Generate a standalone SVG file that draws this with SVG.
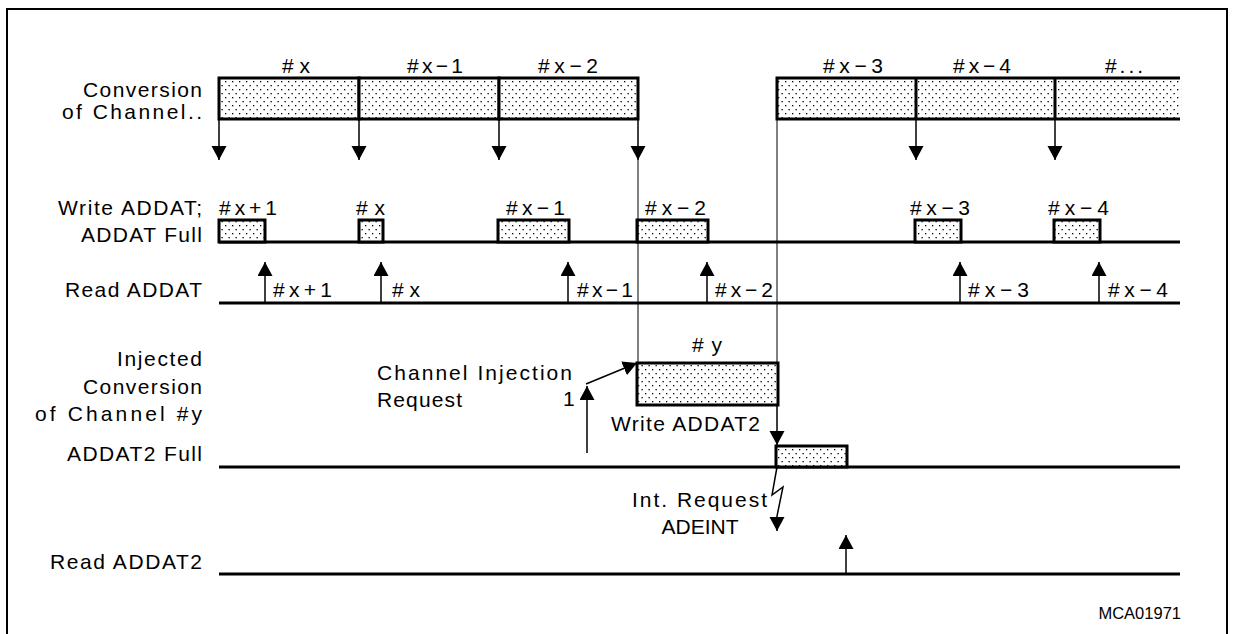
<svg xmlns="http://www.w3.org/2000/svg" width="1233" height="634" viewBox="0 0 1233 634">
<defs>
<pattern id="dots" width="7" height="8" patternUnits="userSpaceOnUse">
<rect width="7" height="8" fill="#fff"/>
<rect x="1" y="1" width="1.3" height="1.3" fill="#000"/>
<rect x="4.5" y="5" width="1.3" height="1.3" fill="#000"/>
</pattern>
<marker id="ah" markerUnits="userSpaceOnUse" markerWidth="16" markerHeight="16" refX="14" refY="7.5" orient="auto">
<path d="M0,0 L14,7.5 L0,15 z" fill="#000"/>
</marker>
<style>
text{font-family:"Liberation Sans",Arial,sans-serif;font-size:21px;fill:#000}
.sm{font-size:16.5px}
.box{fill:url(#dots);stroke:#000;stroke-width:3}
.tl{stroke:#000;stroke-width:3;fill:none}
.ar{stroke:#000;stroke-width:1.5;fill:none;marker-end:url(#ah)}
.thin{stroke:#000;stroke-width:1;fill:none}
</style>
</defs>
<rect x="0" y="0" width="1233" height="634" fill="#fff"/>
<rect x="7" y="9" width="1220" height="640" fill="none" stroke="#000" stroke-width="2"/>

<g id="labels">
<text x="83" y="97" textLength="119" lengthAdjust="spacing">Conversion</text>
<text x="62" y="119" textLength="140" lengthAdjust="spacing">of Channel..</text>
<text x="58" y="215" textLength="144" lengthAdjust="spacing">Write ADDAT;</text>
<text x="81" y="242" textLength="121" lengthAdjust="spacing">ADDAT Full</text>
<text x="65" y="297" textLength="137" lengthAdjust="spacing">Read ADDAT</text>
<text x="117" y="366" textLength="85" lengthAdjust="spacing">Injected</text>
<text x="83" y="394" textLength="119" lengthAdjust="spacing">Conversion</text>
<text x="35" y="421" textLength="167" lengthAdjust="spacing">of Channel #y</text>
<text x="67" y="461" textLength="135" lengthAdjust="spacing">ADDAT2 Full</text>
<text x="50" y="569" textLength="152" lengthAdjust="spacing">Read ADDAT2</text>
<text class="sm" x="1181" y="619" text-anchor="end">MCA01971</text>
</g>

<g id="conversion-row">
<rect class="box" x="219" y="78" width="140" height="41"/>
<rect class="box" x="359" y="78" width="140" height="41"/>
<rect class="box" x="499" y="78" width="139" height="41"/>
<rect x="777" y="78" width="403" height="41" fill="url(#dots)"/>
<path class="tl" d="M1180,78 H777 V119 H1180 M916,78 V119 M1055,78 V119"/>
<text x="282" y="73" textLength="28" lengthAdjust="spacing">#x</text>
<text x="407" y="73" textLength="56" lengthAdjust="spacing">#x−1</text>
<text x="538" y="73" textLength="60" lengthAdjust="spacing">#x−2</text>
<text x="823" y="73" textLength="60" lengthAdjust="spacing">#x−3</text>
<text x="953" y="73" textLength="58" lengthAdjust="spacing">#x−4</text>
<text x="1105" y="73" textLength="38" lengthAdjust="spacing">#...</text>
</g>

<g id="write-addat-row">
<line class="tl" x1="219" y1="242" x2="1180" y2="242"/>
<rect class="box" x="219" y="220" width="46" height="22"/>
<rect class="box" x="359" y="220" width="24" height="22"/>
<rect class="box" x="498" y="220" width="71" height="22"/>
<rect class="box" x="637" y="220" width="71" height="22"/>
<rect class="box" x="915" y="220" width="46" height="22"/>
<rect class="box" x="1054" y="220" width="46" height="22"/>
<text x="219" y="215" textLength="58" lengthAdjust="spacing">#x+1</text>
<text x="356" y="215" textLength="29" lengthAdjust="spacing">#x</text>
<text x="506" y="215" textLength="59" lengthAdjust="spacing">#x−1</text>
<text x="645" y="215" textLength="61" lengthAdjust="spacing">#x−2</text>
<text x="910" y="215" textLength="60" lengthAdjust="spacing">#x−3</text>
<text x="1048" y="215" textLength="61" lengthAdjust="spacing">#x−4</text>
</g>

<g id="read-addat-row">
<line class="tl" x1="219" y1="303" x2="1180" y2="303"/>
<text x="273" y="297" textLength="59" lengthAdjust="spacing">#x+1</text>
<text x="392" y="297" textLength="28" lengthAdjust="spacing">#x</text>
<text x="577" y="297" textLength="56" lengthAdjust="spacing">#x−1</text>
<text x="715" y="297" textLength="58" lengthAdjust="spacing">#x−2</text>
<text x="968" y="297" textLength="61" lengthAdjust="spacing">#x−3</text>
<text x="1108" y="297" textLength="60" lengthAdjust="spacing">#x−4</text>
</g>

<g id="injected-row">
<rect class="box" x="637" y="363" width="141" height="42"/>
<text x="692" y="352" textLength="30" lengthAdjust="spacing">#y</text>
<text x="377" y="380" textLength="195" lengthAdjust="spacing">Channel Injection</text>
<text x="377" y="407" textLength="85" lengthAdjust="spacing">Request</text>
<text x="563" y="406">1</text>
<text x="611" y="431" textLength="149" lengthAdjust="spacing">Write ADDAT2</text>
</g>

<g id="addat2-full-row">
<line class="tl" x1="219" y1="467" x2="1180" y2="467"/>
<rect class="box" x="776" y="446" width="71" height="21"/>
<text x="632" y="507" textLength="135" lengthAdjust="spacing">Int. Request</text>
<text x="700" y="534" text-anchor="middle">ADEINT</text>
</g>

<g id="read-addat2-row">
<line class="tl" x1="219" y1="574" x2="1180" y2="574"/>
</g>

<g id="connectors">
<line class="ar" x1="219" y1="119" x2="219" y2="160"/>
<line class="ar" x1="359" y1="119" x2="359" y2="160"/>
<line class="ar" x1="499" y1="119" x2="499" y2="160"/>
<line class="ar" x1="638" y1="119" x2="638" y2="160"/>
<line class="ar" x1="916" y1="119" x2="916" y2="160"/>
<line class="ar" x1="1055" y1="119" x2="1055" y2="160"/>
<line class="thin" x1="638" y1="160" x2="638" y2="363"/>
<line class="thin" x1="777" y1="119" x2="777" y2="363"/>
<line class="ar" x1="265" y1="303" x2="265" y2="262"/>
<line class="ar" x1="381" y1="303" x2="381" y2="262"/>
<line class="ar" x1="568" y1="303" x2="568" y2="262"/>
<line class="ar" x1="707" y1="303" x2="707" y2="262"/>
<line class="ar" x1="960" y1="303" x2="960" y2="262"/>
<line class="ar" x1="1099" y1="303" x2="1099" y2="262"/>
<line class="ar" x1="587" y1="453" x2="587" y2="386"/>
<line class="ar" x1="586" y1="384" x2="637" y2="363"/>
<line class="ar" x1="777" y1="405" x2="777" y2="445"/>
<polyline class="ar" points="777,467 772,495 783,487 777,516 777,531"/>
<line class="ar" x1="846" y1="574" x2="846" y2="535"/>
</g>
</svg>
